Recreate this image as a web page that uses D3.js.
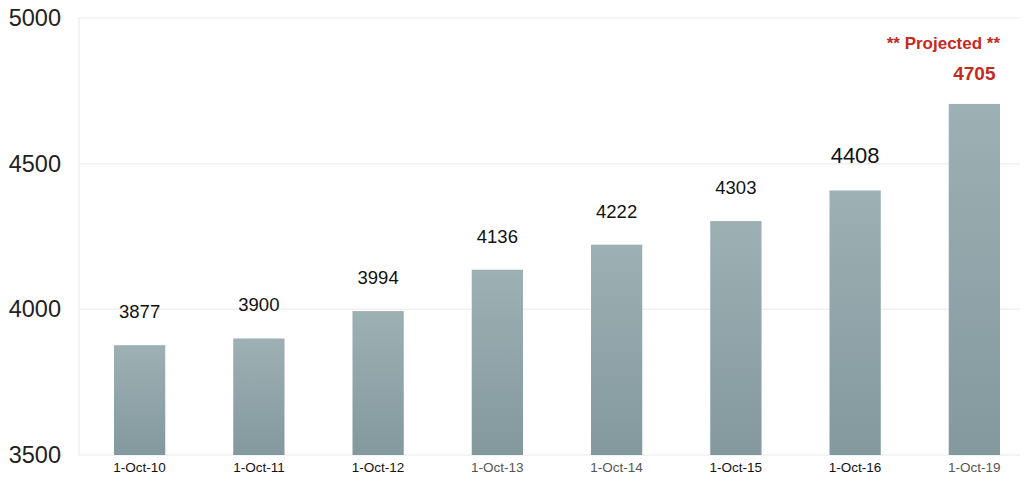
<!DOCTYPE html>
<html>
<head>
<meta charset="utf-8">
<script src="https://cdn.jsdelivr.net/npm/d3@7"></script>
<style>
  html, body { margin: 0; padding: 0; background: #fff; }
  svg { display: block; font-family: "Liberation Sans", Arial, sans-serif; }
</style>
</head>
<body>
<svg width="1024" height="482"></svg>
<script>
// values
const dates = ["1-Oct-10", "1-Oct-11", "1-Oct-12", "1-Oct-13", "1-Oct-14", "1-Oct-15", "1-Oct-16", "1-Oct-19"];
const counts = [3877, 3900, 3994, 4136, 4222, 4303, 4408, 4705];
const yTicks = [3500, 4000, 4500, 5000];
const projectedDate = "1-Oct-19";

const svg = d3.select("svg");

const x = d3.scaleBand()
  .domain(dates)
  .range([80, 1034])
  .paddingInner(0.57)
  .paddingOuter(0.285);

const y = d3.scaleLinear()
  .domain([3500, 5000])
  .range([455, 18]);

// bar fill
const grad = svg.append("defs").append("linearGradient")
  .attr("id", "barFill")
  .attr("x1", 0).attr("y1", 0).attr("x2", 0).attr("y2", 1);
grad.append("stop").attr("offset", "0%").attr("stop-color", "#9db0b4");
grad.append("stop").attr("offset", "100%").attr("stop-color", "#83999e");

// faint grid + frame
svg.append("g")
  .selectAll("line")
  .data(yTicks)
  .join("line")
  .attr("x1", 78).attr("x2", 1020)
  .attr("y1", d => y(d)).attr("y2", d => y(d))
  .attr("stroke", "#f0f0f0")
  .attr("stroke-width", 1.5);

svg.append("line")
  .attr("x1", 79).attr("x2", 79)
  .attr("y1", y(5000)).attr("y2", y(3500))
  .attr("stroke", "#f0f0f0")
  .attr("stroke-width", 1.5);

// y axis labels
const yAxis = svg.append("g")
  .attr("transform", "translate(61,0)")
  .call(d3.axisLeft(y).tickValues(yTicks).tickSize(0).tickPadding(0).tickFormat(d3.format("d")));
yAxis.select(".domain").remove();
yAxis.selectAll("text")
  .attr("font-size", 23.5)
  .attr("font-family", "Liberation Sans, Arial, sans-serif")
  .attr("fill", "#222");

// bars
svg.append("g")
  .selectAll("rect")
  .data(dates)
  .join("rect")
  .attr("x", d => x(d))
  .attr("width", x.bandwidth())
  .attr("y", (d, i) => y(counts[i]))
  .attr("height", (d, i) => y(3500) - y(counts[i]))
  .attr("fill", "url(#barFill)");

// x axis labels
const xAxis = svg.append("g")
  .attr("transform", `translate(0,${y(3500)})`)
  .call(d3.axisBottom(x).tickSize(0).tickPadding(7));
xAxis.select(".domain").remove();
xAxis.selectAll("text")
  .attr("font-size", 13.5)
  .attr("font-family", "Liberation Sans, Arial, sans-serif")
  .attr("fill", d => ["1-Oct-13", "1-Oct-14", "1-Oct-19"].includes(d) ? "#555" : "#111");

// value labels
svg.append("g")
  .selectAll("text")
  .data(dates)
  .join("text")
  .attr("x", d => x(d) + x.bandwidth() / 2)
  .attr("y", (d, i) => y(counts[i]) - (d === projectedDate ? 24 : 27))
  .attr("text-anchor", "middle")
  .attr("font-size", d => d === "1-Oct-16" ? 22 : (d === projectedDate ? 19 : 18.5))
  .attr("font-weight", d => d === projectedDate ? "bold" : "normal")
  .attr("fill", d => d === projectedDate ? "#c62a1e" : "#111")
  .text((d, i) => counts[i]);

// projected note
svg.append("text")
  .attr("x", x(projectedDate) + x.bandwidth() / 2 - 31)
  .attr("y", y(counts[dates.indexOf(projectedDate)]) - 55)
  .attr("text-anchor", "middle")
  .attr("font-size", 17)
  .attr("font-weight", "bold")
  .attr("fill", "#c62a1e")
  .text("** Projected **");
</script>
</body>
</html>
